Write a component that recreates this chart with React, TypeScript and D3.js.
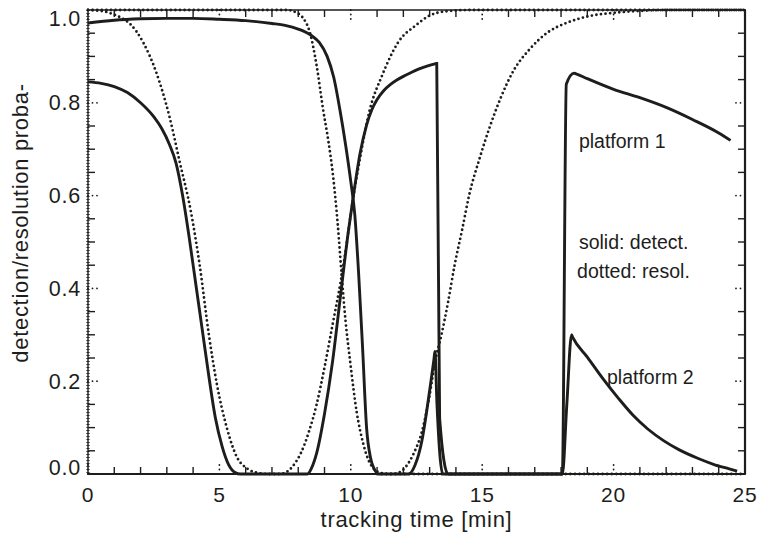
import React from 'react';
import * as d3 from 'd3';

// platform 1 detection (solid)
const p1DetT = [0, 1, 2, 3, 4, 5, 6, 7, 7.5, 8, 8.5, 8.8, 9.1, 9.35, 9.6, 9.8, 10.0, 10.15, 10.3, 10.45, 10.6, 10.75, 10.9, 11.05, 12.2, 12.45, 12.7, 12.9, 13.05, 13.17, 13.2, 13.28, 13.5, 18.05, 18.2, 18.5, 18.55, 19, 20, 21, 22, 23, 24, 24.45];
const p1DetV = [0.972, 0.978, 0.981, 0.982, 0.982, 0.98, 0.977, 0.971, 0.967, 0.959, 0.945, 0.93, 0.9, 0.855, 0.78, 0.71, 0.63, 0.56, 0.43, 0.27, 0.1, 0.035, 0.01, 0, 0, 0.02, 0.07, 0.14, 0.2, 0.25, 0.264, 0.15, 0, 0, 0.84, 0.864, 0.863, 0.852, 0.829, 0.811, 0.79, 0.764, 0.735, 0.719];

// platform 2 detection (solid)
const p2DetT = [0, 0.5, 1, 1.5, 2, 2.5, 2.8, 3.1, 3.35, 3.6, 3.85, 4.1, 4.35, 4.6, 4.85, 5.1, 5.35, 5.6, 5.8, 8.35, 8.5, 8.7, 9.0, 9.3, 9.6, 9.9, 10.1, 10.35, 10.6, 10.8, 11.0, 11.25, 11.5, 11.75, 12.0, 12.25, 12.6, 12.9, 13.2, 13.27, 13.38, 13.7, 18.05, 18.22, 18.4, 18.45, 19, 19.6, 20.2, 20.75, 21.3, 21.9, 22.5, 23.2, 23.8, 24.4, 24.7];
const p2DetV = [0.845, 0.842, 0.835, 0.822, 0.8, 0.77, 0.745, 0.71, 0.67, 0.6, 0.51, 0.41, 0.31, 0.21, 0.12, 0.06, 0.02, 0.003, 0, 0, 0.012, 0.045, 0.13, 0.24, 0.38, 0.52, 0.6, 0.69, 0.752, 0.785, 0.807, 0.826, 0.839, 0.849, 0.857, 0.864, 0.873, 0.879, 0.884, 0.885, 0.12, 0, 0, 0.15, 0.3, 0.294, 0.252, 0.205, 0.162, 0.126, 0.097, 0.072, 0.052, 0.034, 0.021, 0.011, 0.006];

// resolution curve starting at 1 and dipping at ~6 min (dotted)
const resAT = [0, 0.5, 1.0, 1.3, 1.6, 2.1, 2.6, 3.1, 3.5, 3.9, 4.25, 4.6, 4.9, 5.28, 5.66, 6.05, 6.5, 6.9, 7.3, 7.6, 7.9, 8.1, 8.4, 8.7, 9.0, 9.3, 9.6, 9.8, 10.05, 10.35, 10.7, 11.2, 11.8, 12.5, 13.0, 13.6, 14.5, 25];
const resAV = [1.0, 0.998, 0.99, 0.982, 0.97, 0.93, 0.865, 0.77, 0.67, 0.57, 0.45, 0.3, 0.195, 0.1, 0.037, 0.012, 0.002, 0, 0, 0.006, 0.025, 0.045, 0.09, 0.15, 0.23, 0.32, 0.41, 0.48, 0.58, 0.68, 0.78, 0.86, 0.93, 0.968, 0.988, 0.997, 1.0, 1.0];

// resolution curve dipping at ~10 min (dotted)
const resBT = [0, 7.6, 7.9, 8.15, 8.45, 8.7, 8.95, 9.14, 9.33, 9.5, 9.65, 9.8, 9.97, 10.22, 10.47, 10.73, 11.1, 11.5, 25];
const resBV = [1.0, 1.0, 0.995, 0.985, 0.95, 0.88, 0.784, 0.72, 0.64, 0.54, 0.43, 0.33, 0.245, 0.135, 0.066, 0.023, 0.003, 0, 0];

// resolution curve rising after ~12 min (dotted)
const resCT = [11.0, 11.6, 11.9, 12.1, 12.4, 12.7, 13.0, 13.2, 13.45, 13.7, 13.95, 14.25, 14.5, 14.9, 15.3, 15.7, 16.2, 16.8, 17.5, 18.2, 19, 20, 21, 22, 25];
const resCV = [0, 0, 0.005, 0.016, 0.045, 0.09, 0.17, 0.24, 0.3, 0.37, 0.45, 0.53, 0.6, 0.68, 0.75, 0.81, 0.87, 0.915, 0.952, 0.972, 0.986, 0.994, 0.998, 1.0, 1.0];

const xMajor = [0, 5, 10, 15, 20, 25];
const xTickLabels = ['0', '5', '10', '15', '20', '25'];
const yMajor = [0, 0.2, 0.4, 0.6, 0.8, 1.0];
const yTickLabels = ['0.0', '0.2', '0.4', '0.6', '0.8', '1.0'];

const xTitle = 'tracking time [min]';
const yTitle = 'detection/resolution proba-';
const noteTexts = ['platform 1', 'solid: detect.', 'dotted: resol.', 'platform 2'];
const noteT = [18.68, 18.68, 18.61, 19.75];
const noteV = [0.7026, 0.485, 0.4224, 0.194];

const FONT = '"Liberation Sans", Arial, Helvetica, sans-serif';
const INK = '#1d1d1b';

export default function App() {
  const left = 88, right = 745, top = 10, bottom = 474;
  const x = d3.scaleLinear().domain([0, 25]).range([left, right]);
  const y = d3.scaleLinear().domain([0, 1]).range([bottom, top]);
  const line = d3
    .line<[number, number]>()
    .x((d) => x(d[0]))
    .y((d) => y(d[1]))
    .curve(d3.curveMonotoneX);
  const zip = (t: number[], v: number[]) => t.map((tt, i) => [tt, v[i]] as [number, number]);

  const xMinor = d3.range(0, 26, 1).filter((v) => v % 5 !== 0);
  const yMinor = d3.range(0, 21, 1).filter((v) => v % 4 !== 0).map((v) => v * 0.05);

  const solid = [zip(p2DetT, p2DetV), zip(p1DetT, p1DetV)];
  const dotted = [zip(resAT, resAV), zip(resBT, resBV), zip(resCT, resCV)];

  return (
    <svg width={760} height={541} style={{ position: 'absolute', left: 0, top: 0, background: '#fff' }}>
      <rect x={0} y={0} width={760} height={541} fill="#fff" />
      {/* frame */}
      <line x1={left} y1={bottom} x2={right} y2={bottom} stroke={INK} strokeWidth={2} />
      <line x1={right} y1={top} x2={right} y2={bottom} stroke={INK} strokeWidth={2.2} />
      <line x1={left} y1={top} x2={right} y2={top} stroke={INK} strokeWidth={1.4} />
      <line x1={left} y1={top} x2={left} y2={bottom} stroke={INK} strokeWidth={1.4} />
      <line x1={left} y1={top} x2={left} y2={bottom} stroke={INK} strokeWidth={3.4} strokeDasharray="1 2" opacity={0.8} />

      {/* minor ticks */}
      {xMinor.map((v) => (
        <g key={'xm' + v}>
          <line x1={x(v)} x2={x(v)} y1={bottom} y2={bottom - 7} stroke={INK} strokeWidth={1.4} />
          <line x1={x(v)} x2={x(v)} y1={top} y2={top + 7} stroke={INK} strokeWidth={1.4} />
        </g>
      ))}
      {yMinor.map((v) => (
        <g key={'ym' + v}>
          <line x1={left} x2={left + 7} y1={y(v)} y2={y(v)} stroke={INK} strokeWidth={1.4} />
          <line x1={right} x2={right - 7} y1={y(v)} y2={y(v)} stroke={INK} strokeWidth={1.4} />
        </g>
      ))}
      {/* major ticks (dotted) */}
      {xMajor.map((v) => (
        <g key={'xM' + v}>
          <line x1={x(v)} x2={x(v)} y1={bottom} y2={bottom - 10} stroke={INK} strokeWidth={1.8} strokeDasharray="0 4.5" strokeLinecap="round" />
          <line x1={x(v)} x2={x(v)} y1={top} y2={top + 10} stroke={INK} strokeWidth={1.8} strokeDasharray="0 4.5" strokeLinecap="round" />
        </g>
      ))}
      {yMajor.map((v) => (
        <g key={'yM' + v}>
          <line x1={left} x2={left + 10} y1={y(v)} y2={y(v)} stroke={INK} strokeWidth={1.8} strokeDasharray="0 4.5" strokeLinecap="round" />
          <line x1={right} x2={right - 10} y1={y(v)} y2={y(v)} stroke={INK} strokeWidth={1.8} strokeDasharray="0 4.5" strokeLinecap="round" />
        </g>
      ))}

      {/* curves */}
      {dotted.map((d, i) => (
        <path key={'d' + i} d={line(d) || ''} fill="none" stroke={INK} strokeWidth={2.8} strokeDasharray="0 4.6" strokeLinecap="round" />
      ))}
      {solid.map((d, i) => (
        <path key={'s' + i} d={line(d) || ''} fill="none" stroke={INK} strokeWidth={2.9} strokeLinejoin="miter" />
      ))}

      {/* tick labels */}
      {yMajor.map((v, i) => {
        const off = v === 0 ? -7 : v === 1 ? 8 : 0;
        return (
          <text key={'yl' + v} x={81} y={y(v) + off + 7.5} textAnchor="end" fontFamily={FONT} fontSize={21.5} letterSpacing={0.8} fill={INK}>
            {yTickLabels[i]}
          </text>
        );
      })}
      {xMajor.map((v, i) => (
        <text key={'xl' + v} x={x(v)} y={501.5} textAnchor="middle" fontFamily={FONT} fontSize={21} letterSpacing={0.8} fill={INK}>
          {xTickLabels[i]}
        </text>
      ))}

      {/* axis titles */}
      <text x={(left + right) / 2} y={527} textAnchor="middle" fontFamily={FONT} fontSize={22} letterSpacing={0.7} fill={INK}>
        {xTitle}
      </text>
      <text transform={`translate(28,223) rotate(-90)`} textAnchor="middle" fontFamily={FONT} fontSize={22} letterSpacing={0.7} fill={INK}>
        {yTitle}
      </text>

      {/* annotations */}
      {noteTexts.map((txt, i) => (
        <text key={txt} x={x(noteT[i])} y={y(noteV[i])} fontFamily={FONT} fontSize={19.5} fill={INK}>
          {txt}
        </text>
      ))}
    </svg>
  );
}
